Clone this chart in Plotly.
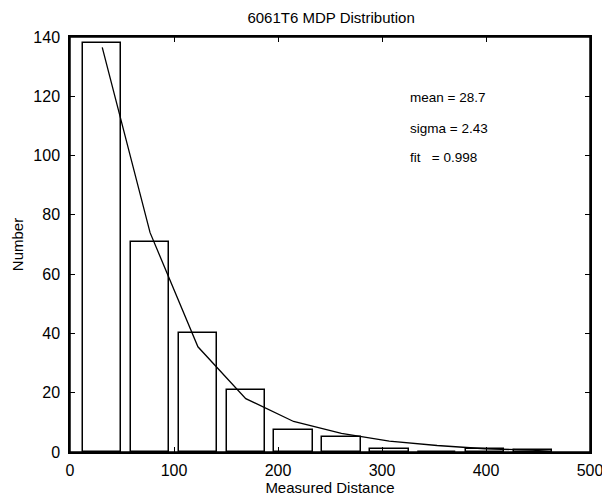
import plotly.graph_objects as go

# Histogram bins (bin centres) and counts
bin_centers = [31, 77, 123, 169, 215, 261, 307, 353, 399, 445]
counts = [138, 71, 40, 21, 7.5, 5, 1, 0, 1, 0.7]

# Fitted curve (evaluated at bin centres, plus its end)
fit_x = [31, 77, 123, 169, 215, 261, 307, 353, 399, 445, 462]
fit_y = [136.5, 74, 35.5, 18, 10.3, 6.3, 3.7, 2.2, 1.1, 0.6, 0.1]

stats_labels = ["mean = 28.7", "sigma = 2.43", "fit\u00a0\u00a0\u00a0= 0.998"]
stats_y = [119.5, 109, 99.2]

x_ticks = [0, 100, 200, 300, 400, 500]
y_ticks = [0, 20, 40, 60, 80, 100, 120, 140]

FONT = "Liberation Sans, Arial, Helvetica, sans-serif"

fig = go.Figure()
fig.add_trace(go.Bar(
    x=bin_centers, y=counts, width=37,
    marker=dict(color="white", line=dict(color="black", width=1.5)),
    showlegend=False, hoverinfo="skip",
))
fig.add_trace(go.Scatter(
    x=fit_x, y=fit_y, mode="lines",
    line=dict(color="black", width=1.3),
    showlegend=False, hoverinfo="skip",
))

for txt, yy in zip(stats_labels, stats_y):
    fig.add_annotation(x=325, y=yy, xref="x", yref="y", text=txt,
                       showarrow=False, xanchor="left", yanchor="middle",
                       font=dict(family=FONT, size=13.5, color="black"))

# Frame around the plot area
fig.add_shape(type="rect", xref="x domain", yref="y domain",
              x0=0, x1=1, y0=0, y1=1,
              line=dict(color="black", width=1.5), layer="above")

axis_common = dict(
    showline=True, linecolor="black", linewidth=1.5, mirror="ticks",
    ticks="inside", ticklen=5, tickwidth=1.2, tickcolor="black",
    showgrid=False, zeroline=False, automargin=False,
    ticklabeloverflow="allow",
    tickfont=dict(family=FONT, size=16, color="black"),
)

fig.update_layout(
    width=602, height=501,
    margin=dict(l=70, r=12, t=37, b=49, autoexpand=False),
    paper_bgcolor="white", plot_bgcolor="white",
    title=dict(text="6061T6 MDP Distribution", x=0.55, xanchor="center",
               y=0.965, yanchor="middle",
               font=dict(family=FONT, size=15, color="black")),
    xaxis=dict(range=[0, 500], tickvals=x_ticks, ticklabelstandoff=3,
               title=dict(text="Measured Distance", standoff=5,
                          font=dict(family=FONT, size=15, color="black")),
               **axis_common),
    yaxis=dict(range=[0, 140], tickvals=y_ticks, ticklabelstandoff=5,
               title=dict(text="Number", standoff=6,
                          font=dict(family=FONT, size=15, color="black")),
               **axis_common),
    bargap=0,
)

fig.write_html("out.html", config={"displayModeBar": False},
               post_script="document.body.style.margin='0';document.body.style.overflow='hidden';")
